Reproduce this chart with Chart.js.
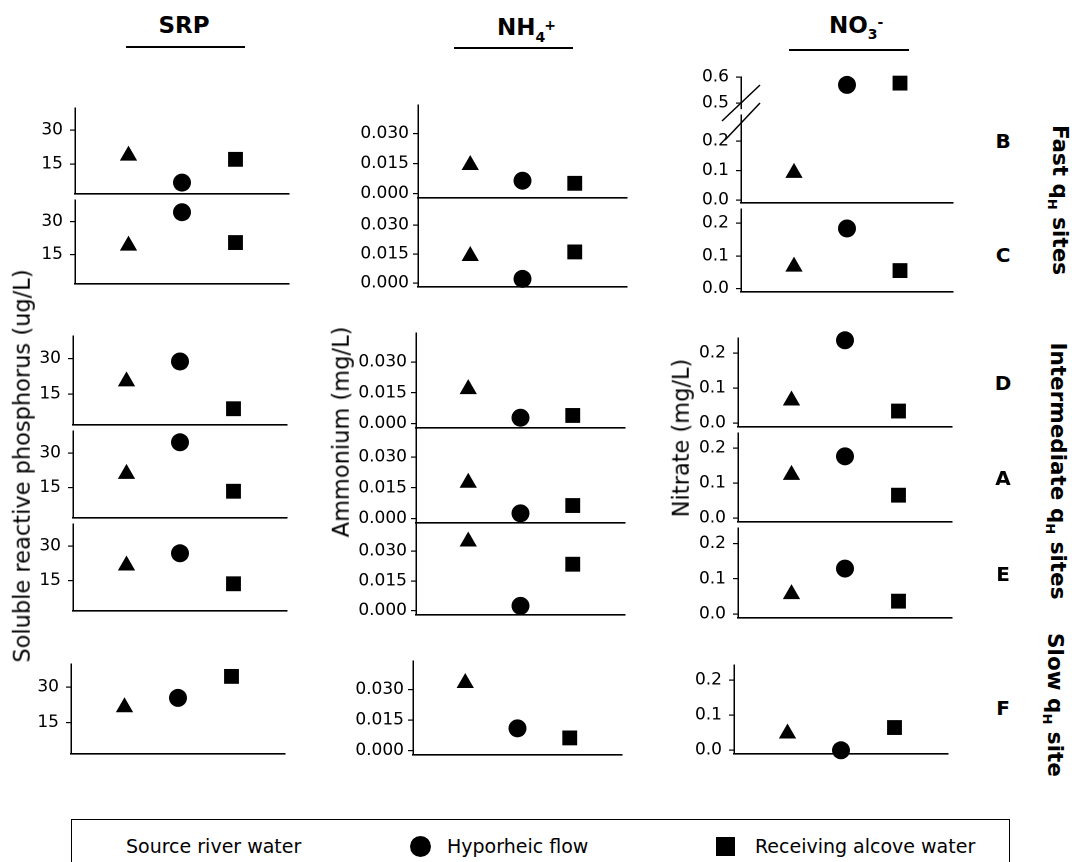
<!DOCTYPE html>
<html>
<head>
<meta charset="utf-8">
<title>SRP, NH4+ and NO3- by site</title>
<script src="https://cdn.jsdelivr.net/npm/chart.js@4.4.1/dist/chart.umd.min.js"></script>
<style>
  html, body { margin: 0; padding: 0; background: #fff; }
  #stage { position: relative; width: 1072px; height: 862px; overflow: hidden;
           font-family: "DejaVu Sans", sans-serif; color: #000; }
  #stage canvas { position: absolute; }
  .txt { position: absolute; white-space: nowrap; line-height: 1; }
  .rule { position: absolute; height: 2px; background: #000; }
  .mk { position: absolute; background: #000; }
</style>
</head>
<body>
<div id="stage">
  <svg width="1072" height="862" style="position:absolute;left:0;top:0">
    <line x1="722" y1="121" x2="760" y2="85" stroke="#000" stroke-width="1.5"/>
    <line x1="725" y1="140" x2="760" y2="103" stroke="#000" stroke-width="1.5"/>
  </svg>
</div>
<script>
// ---- data ----
const seriesNames = ["Source river water", "Hyporheic flow", "Receiving alcove water"];
const sites = ["B", "C", "D", "A", "E", "F"];

// SRP (ug/L), one value per site in the order above
const srpSource    = [18.7, 19.1, 20.4, 21.0, 21.6, 21.5];
const srpHyporheic = [6.9, 34.1, 28.8, 34.7, 26.9, 25.4];
const srpAlcove    = [17.1, 20.5, 8.8, 13.5, 13.7, 34.4];

// NH4+ (mg/L)
const nh4Source    = [0.0143, 0.0140, 0.0168, 0.0175, 0.0348, 0.0333];
const nh4Hyporheic = [0.0065, 0.0021, 0.0029, 0.0026, 0.0025, 0.0110];
const nh4Alcove    = [0.0052, 0.0161, 0.0040, 0.0064, 0.0234, 0.0063];

// NO3- (mg/L)
const no3Source    = [0.092, 0.067, 0.065, 0.124, 0.057, 0.048];
const no3Hyporheic = [0.570, 0.184, 0.237, 0.177, 0.129, 0.000];
const no3Alcove    = [0.577, 0.055, 0.035, 0.066, 0.037, 0.065];

const srpTicks = [15, 30];
const nh4Ticks = [0, 0.015, 0.030];
const no3Ticks = [0, 0.1, 0.2];
const no3HighTicks = [0.5, 0.6];

// ---- layout ----
const markerStyle = ["triangle", "circle", "rect"];
const markerRadius = [10, 9, 10.5];
const PAD = 14;
const AXW = 66;
const stage = document.getElementById("stage");

const srpAxis = { min: 2, max: 39.5, ticks: srpTicks, digits: 0, tickLen: 5, gap: 7 };
const nh4Axis = { min: -0.002, max: 0.044, ticks: nh4Ticks, digits: 3, tickLen: 5, gap: 4 };
const no3Axis = { min: -0.01, max: 0.243, ticks: no3Ticks, digits: 1, tickLen: 5, gap: 7 };
const no3LowAxis = { min: -0.01, max: 0.288, ticks: no3Ticks, digits: 1, tickLen: 5, gap: 7 };
const no3HighAxis = { min: 0.477, max: 0.6, ticks: no3HighTicks, digits: 1, tickLen: 5, gap: 7 };

// panel boxes in page pixels: axis x, right end, top, bottom
const srpBoxes = [[75, 289, 105, 197], [75, 289, 197, 287], [73, 287, 333, 428],
                  [73, 287, 428, 521], [73, 287, 521, 614], [71, 285, 661, 757]];
const nh4Boxes = [[418, 627, 105, 198], [418, 627, 198, 287], [416, 625, 333, 428],
                  [416, 625, 428, 523], [416, 625, 523, 615], [413, 622, 661, 755]];
const no3Boxes = [[741, 953, 112, 206], [741, 953, 206, 295], [738, 952, 335, 430],
                  [738, 952, 430, 525], [738, 952, 525, 621], [734, 948, 662, 757]];
const no3HighBox = [741, 953, 74, 112];

function panel(box, axis, values, base) {
  const [x0, x1, y0, y1] = box;
  const cv = document.createElement("canvas");
  cv.width = x1 - x0 + AXW + PAD;
  cv.height = y1 - y0 + 2 * PAD;
  cv.style.left = (x0 - AXW) + "px";
  cv.style.top = (y0 - PAD) + "px";
  stage.appendChild(cv);

  new Chart(cv, {
    type: "scatter",
    data: {
      datasets: seriesNames.map((name, s) => ({
        label: name,
        data: values[s] == null ? [] : [{ x: s + 1, y: values[s] }],
        pointStyle: markerStyle[s],
        pointRadius: markerRadius[s],
        pointHoverRadius: markerRadius[s],
        backgroundColor: "#000",
        borderColor: "#000",
        borderWidth: 0,
        clip: false
      }))
    },
    options: {
      responsive: false,
      animation: false,
      devicePixelRatio: 2,
      events: [],
      layout: { padding: { top: PAD, bottom: PAD, right: PAD, left: 0 } },
      plugins: { legend: { display: false }, tooltip: { enabled: false } },
      scales: {
        x: {
          type: "linear", min: 0, max: 4,
          ticks: { display: false },
          grid: { display: false },
          border: { display: base, color: "#000", width: 1.6 },
          afterFit: s => { s.height = 0; }
        },
        y: {
          type: "linear", min: axis.min, max: axis.max,
          afterBuildTicks: s => { s.ticks = axis.ticks.map(v => ({ value: v })); },
          afterFit: s => { s.width = AXW; },
          ticks: {
            autoSkip: false,
            color: "#000",
            padding: axis.gap,
            font: { family: "DejaVu Sans", size: 17 },
            callback: v => Number(v).toFixed(axis.digits)
          },
          grid: { drawOnChartArea: false, drawTicks: true, tickLength: axis.tickLen,
                  color: "#000", lineWidth: 1.2 },
          border: { display: true, color: "#000", width: 1.5 }
        }
      }
    }
  });
}

sites.forEach((site, i) => {
  panel(srpBoxes[i], srpAxis, [srpSource[i], srpHyporheic[i], srpAlcove[i]], true);
  panel(nh4Boxes[i], nh4Axis, [nh4Source[i], nh4Hyporheic[i], nh4Alcove[i]], true);
  const no3 = [no3Source[i], no3Hyporheic[i], no3Alcove[i]];
  if (i === 0) {
    // broken axis: low part and high part
    panel(no3Boxes[i], no3LowAxis, no3.map(v => v < 0.3 ? v : null), true);
    panel(no3HighBox, no3HighAxis, no3.map(v => v >= 0.3 ? v : null), false);
  } else {
    panel(no3Boxes[i], no3Axis, no3, true);
  }
});

// ---- text ----
function addText(html, x, y, size, weight, align, rotate) {
  const d = document.createElement("div");
  d.className = "txt";
  d.innerHTML = html;
  d.style.fontSize = size + "px";
  d.style.fontWeight = weight;
  d.style.left = x + "px";
  d.style.top = y + "px";
  const tx = align === "left" ? "0" : "-50%";
  d.style.transform = "translate(" + tx + ", -50%)" + (rotate ? " rotate(" + rotate + "deg)" : "");
  stage.appendChild(d);
}
function addRule(x, y, w) {
  const d = document.createElement("div");
  d.className = "rule";
  d.style.left = x + "px";
  d.style.top = y + "px";
  d.style.width = w + "px";
  stage.appendChild(d);
}
function sub(t, size, dy, extra) {
  return '<span style="font-size:' + size + 'px;position:relative;top:' + dy + 'px;' + (extra || '') + '">' + t + '</span>';
}

addText("SRP", 184, 25, 23, "bold");
addRule(126, 46, 119);
addText("NH" + sub("4", 14, 7) + sub("+", 14, -5, "margin-left:-1px"), 497, 27, 23, "bold", "left");
addRule(454, 47, 119);
addText("NO" + sub("3", 14, 6) + sub("-", 14, -6), 829, 25, 23, "bold", "left");
addRule(789, 49, 120);

addText("Soluble reactive phosphorus (ug/L)", 22, 466, 22.5, "normal", "center", -90);
addText("Ammonium (mg/L)", 341, 432, 22.5, "normal", "center", -90);
addText("Nitrate (mg/L)", 681, 438, 22.5, "normal", "center", -90);

const siteLabelY = [141, 255, 383, 478, 574, 708];
sites.forEach((s, i) => addText(s, 1003, siteLabelY[i], 20, "bold"));

addText("Fast q" + sub("H", 13, 5) + " sites", 1060, 200, 21.5, "bold", "center", 90);
addText("Intermediate q" + sub("H", 13, 5) + " sites", 1058, 471, 21.5, "bold", "center", 90);
addText("Slow q" + sub("H", 13, 5) + " site", 1055, 705, 21.5, "bold", "center", 90);

// ---- legend ----
const lg = document.createElement("div");
lg.style.cssText = "position:absolute;left:71px;top:819px;width:939px;height:70px;border:1.5px solid #000;box-sizing:border-box;";
stage.appendChild(lg);
const legendY = 846;
addText(seriesNames[0], 126, legendY, 19, "normal", "left");
const dot = document.createElement("div");
dot.className = "mk";
dot.style.cssText += "left:410px;top:" + (legendY - 10.5) + "px;width:21px;height:21px;border-radius:50%;";
stage.appendChild(dot);
addText(seriesNames[1], 447, legendY, 19, "normal", "left");
const sq = document.createElement("div");
sq.className = "mk";
sq.style.cssText += "left:716px;top:" + (legendY - 9.5) + "px;width:19px;height:19px;";
stage.appendChild(sq);
addText(seriesNames[2], 755, legendY, 19, "normal", "left");
</script>
</body>
</html>
